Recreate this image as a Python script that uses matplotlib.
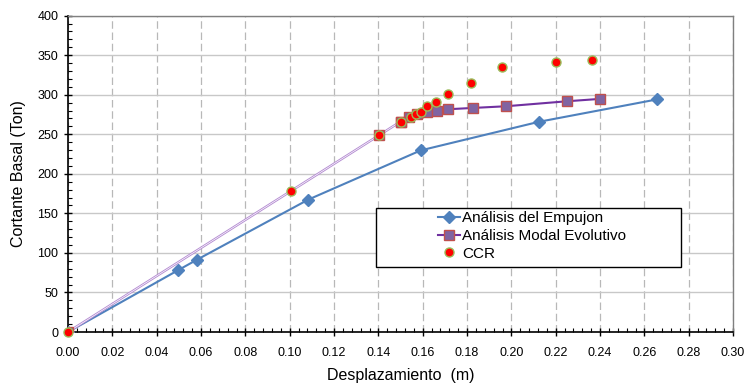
import matplotlib
matplotlib.use("Agg")
import matplotlib.pyplot as plt
from matplotlib.patches import Rectangle
from matplotlib.ticker import MultipleLocator, FormatStrFormatter

plt.rcParams["font.family"] = ["Liberation Sans", "DejaVu Sans"]

# ---- data -----------------------------------------------------------------
empujon_x = [0.0, 0.0497, 0.0581, 0.1084, 0.1591, 0.2125, 0.2656]
empujon_y = [0.0, 78.2, 91.3, 167.4, 229.6, 265.8, 294.0]

modal_x = [0.0, 0.1402, 0.1500, 0.1540, 0.1573, 0.1618, 0.1663, 0.1713, 0.1829, 0.1976, 0.2251, 0.2399]
modal_y = [0.0, 248.5, 266.0, 271.5, 275.7, 278.6, 279.9, 281.6, 283.3, 285.4, 291.7, 294.7]

ccr_x = [0.0, 0.1004, 0.1402, 0.1502, 0.1546, 0.1570, 0.1591, 0.1618, 0.1660, 0.1713, 0.1818, 0.1958, 0.2200, 0.2365]
ccr_y = [0.0, 177.9, 248.5, 266.0, 272.3, 275.7, 277.8, 285.4, 290.9, 301.0, 314.9, 334.8, 341.1, 344.0]

labels = ["Análisis del Empujon", "Análisis Modal Evolutivo", "CCR"]

# ---- figure ---------------------------------------------------------------
fig = plt.figure(figsize=(7.45, 3.9), dpi=100)
ax = fig.add_axes([0.0913, 0.1487, 0.8927, 0.8113])

ax.set_xlim(0, 0.30)
ax.set_ylim(0, 400)
ax.xaxis.set_major_locator(MultipleLocator(0.02))
ax.xaxis.set_minor_locator(MultipleLocator(0.004))
ax.yaxis.set_major_locator(MultipleLocator(50))
ax.yaxis.set_minor_locator(MultipleLocator(10))
ax.xaxis.set_major_formatter(FormatStrFormatter("%.2f"))

ax.grid(True, axis="y", which="major", color="#c8c8c8", lw=1.0, ls="-", zorder=0)
ax.grid(True, axis="x", which="major", color="#b8b8b8", lw=0.9, ls=(0, (6, 3)), zorder=0)

ax.tick_params(which="major", direction="inout", length=6, width=1, labelsize=9, colors="black")
ax.tick_params(which="minor", direction="in", length=3, width=0.8)
ax.tick_params(axis="x", pad=8)
ax.tick_params(axis="y", pad=4)

for side in ("left", "bottom"):
    ax.spines[side].set_color("black")
    ax.spines[side].set_linewidth(1.2)
for side in ("top", "right"):
    ax.spines[side].set_color("#808080")
    ax.spines[side].set_linewidth(1.0)

# ---- series ---------------------------------------------------------------
h1, = ax.plot(empujon_x, empujon_y, color="#4f81bd", lw=1.5, marker="D", ms=6,
              mfc="#4f81bd", mec="#4f81bd", zorder=3)

# first segments of the modal curve drawn as a thin light line
ax.plot(modal_x[:3], modal_y[:3], color="#b48cd2", lw=1.8, zorder=3)
ax.plot(modal_x[:3], modal_y[:3], color="white", lw=0.5, zorder=3)
h2, = ax.plot(modal_x[2:], modal_y[2:], color="#7030a0", lw=1.5, marker="s", ms=6.5,
              mfc="#8064a2", mec="#c0504d", mew=1.0, zorder=3)
ax.plot(modal_x[:3], modal_y[:3], ls="none", marker="s", ms=6.5,
        mfc="#8064a2", mec="#c0504d", mew=1.0, zorder=3)

h3, = ax.plot(ccr_x, ccr_y, ls="none", marker="o", ms=6.5, mfc="#ff0000",
              mec="#9bbb59", mew=1.0, zorder=4, clip_on=False)

ax.set_xlabel("Desplazamiento  (m)", fontsize=11.5, labelpad=6)
ax.set_ylabel("Cortante Basal (Ton)", fontsize=11.5, labelpad=8)

# ---- legend ---------------------------------------------------------------
frame = Rectangle((0.463, 0.2055), 0.459, 0.1865, transform=ax.transAxes,
                  facecolor="white", edgecolor="black", lw=1.0, zorder=5)
ax.add_patch(frame)
leg = ax.legend([h1, h2, h3], labels, loc="upper left", bbox_to_anchor=(0.552, 0.392),
                frameon=False, fontsize=11, handlelength=1.4, handletextpad=0.15,
                labelspacing=0.25, borderpad=0.2, borderaxespad=0)
leg.set_zorder(6)

fig.savefig("out.png", dpi=100)
